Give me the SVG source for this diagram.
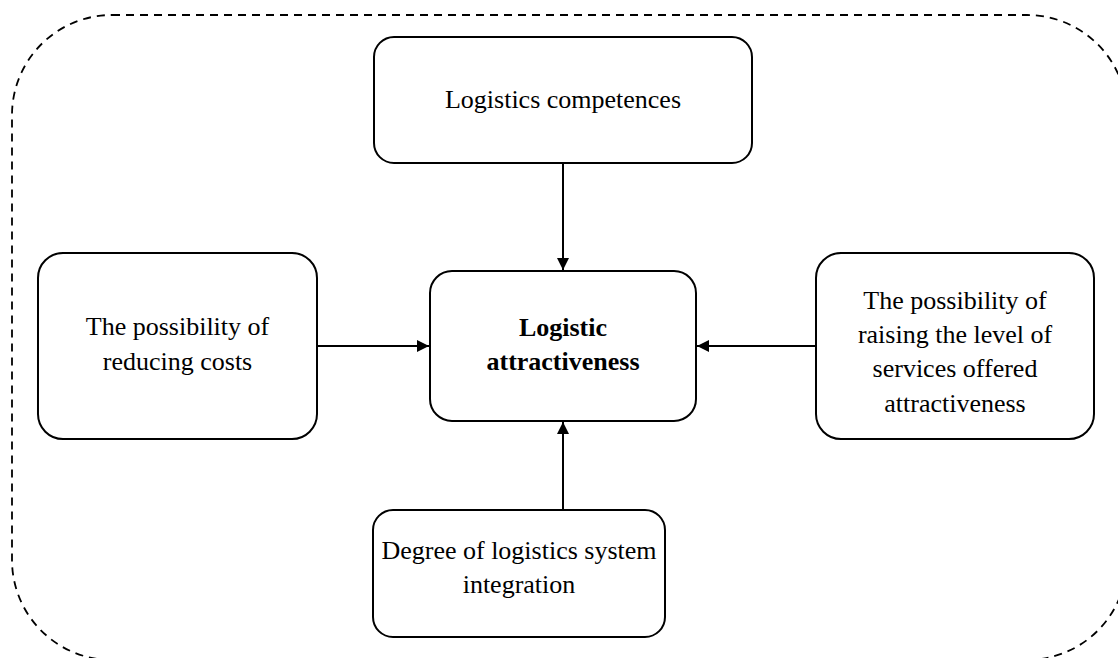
<svg xmlns="http://www.w3.org/2000/svg" width="1118" height="658" viewBox="0 0 1118 658">
<defs>
<style>
.box{fill:#fff;stroke:#000;stroke-width:2}
.t{font-family:"Liberation Serif","Times New Roman",serif;font-size:26px;fill:#000;text-anchor:middle}
.b{font-weight:bold}
.c{stroke:#000;stroke-width:2;fill:none;marker-end:url(#ah)}
</style>
<marker id="ah" viewBox="0 0 10 10" refX="10" refY="5" markerWidth="6" markerHeight="6" orient="auto" markerUnits="strokeWidth">
<path d="M0,0 L10,5 L0,10 z" fill="#000"/>
</marker>
</defs>
<rect width="1118" height="658" fill="#fff"/>
<rect id="frame" x="12" y="15" width="1115" height="645" rx="100" ry="100" fill="none" stroke="#000" stroke-width="1.8" stroke-dasharray="8,6"/>
<g id="connectors">
<line class="c" x1="563" y1="163" x2="563" y2="270"/>
<line class="c" x1="317" y1="346" x2="429" y2="346"/>
<line class="c" x1="816" y1="346" x2="697" y2="346"/>
<line class="c" x1="563" y1="510" x2="563" y2="422"/>
</g>
<g id="n_top">
<rect class="box" x="374" y="37" width="378" height="126" rx="20"/>
<text class="t" x="563" y="108">Logistics competences</text>
</g>
<g id="n_center">
<rect class="box" x="430" y="271" width="266" height="150" rx="22"/>
<text class="t b" x="563" y="336">Logistic</text>
<text class="t b" x="563" y="370">attractiveness</text>
</g>
<g id="n_left">
<rect class="box" x="38" y="253" width="279" height="186" rx="25"/>
<text class="t" x="177.5" y="335">The possibility of</text>
<text class="t" x="177.5" y="370">reducing costs</text>
</g>
<g id="n_right">
<rect class="box" x="816" y="253" width="278" height="186" rx="25"/>
<text class="t" x="955" y="309">The possibility of</text>
<text class="t" x="955" y="343">raising the level of</text>
<text class="t" x="955" y="377">services offered</text>
<text class="t" x="955" y="412">attractiveness</text>
</g>
<g id="n_bottom">
<rect class="box" x="373" y="510" width="292" height="127" rx="20"/>
<text class="t" x="519" y="559">Degree of logistics system</text>
<text class="t" x="519" y="593">integration</text>
</g>
</svg>
